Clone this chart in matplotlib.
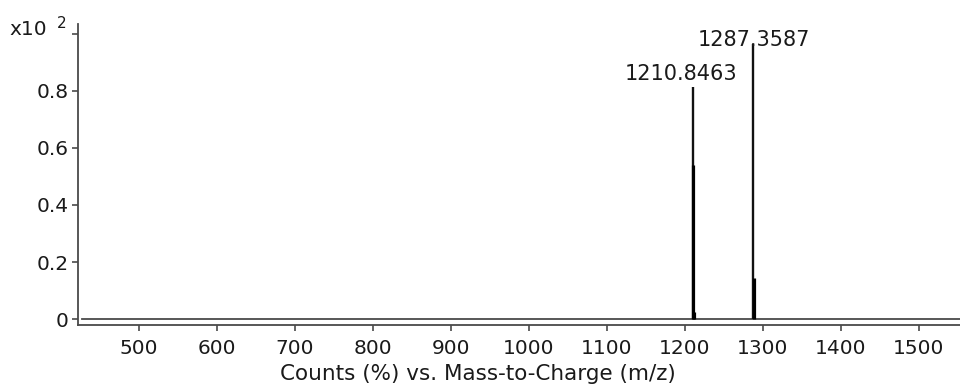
import matplotlib
matplotlib.use('Agg')
import matplotlib.pyplot as plt

plt.rcParams['font.family'] = ['DejaVu Sans']

# Centroid sticks (labelled peaks), intensity in units of x10^2 counts (%)
peak_mz = [1210.8463, 1287.3587]
peak_int = [0.815, 0.965]
peak_labels = ['1210.8463', '1287.3587']

# Profile points under the sticks
profile_mz = [1210.9, 1211.7, 1288.6]
profile_int = [0.54, 0.025, 0.144]

x_ticks = [500, 600, 700, 800, 900, 1000, 1100, 1200, 1300, 1400, 1500]
y_ticks = [0, 0.2, 0.4, 0.6, 0.8, 1.0]
y_ticklabels = ['0', '0.2', '0.4', '0.6', '0.8', '']

axis_col = '#4a4a4a'
text_col = '#1a1a1a'
fs = 14.5

fig = plt.figure(figsize=(9.6, 3.88), dpi=100)
ax = fig.add_axes([78 / 960, 63 / 388, 882 / 960, 301 / 388])

ax.set_xlim(422, 1552.6)
ax.set_ylim(-0.021, 1.035)

# baseline at zero intensity
ax.axhline(0, xmin=4 / 882, xmax=1, color=axis_col, lw=1.3)

ax.vlines(peak_mz, 0, peak_int, color='#111111', lw=1.7)
ax.vlines(profile_mz, 0, profile_int, color='#000000', lw=2.3)

# peak labels
ax.text(peak_mz[1] + 1, 0.958, peak_labels[1], ha='center', va='baseline',
        fontsize=15, color=text_col)
ax.text(peak_mz[0] - 16, 0.839, peak_labels[0], ha='center', va='baseline',
        fontsize=15, color=text_col)

for side in ['top', 'right']:
    ax.spines[side].set_visible(False)
for side in ['left', 'bottom']:
    ax.spines[side].set_color(axis_col)
    ax.spines[side].set_linewidth(1.3)

ax.set_xticks(x_ticks)
ax.set_xticklabels([str(t) for t in x_ticks])
ax.set_yticks(y_ticks)
ax.set_yticklabels(y_ticklabels)
ax.tick_params(axis='both', direction='out', length=4, width=1.2,
               color=axis_col, labelsize=fs, labelcolor=text_col)
ax.tick_params(axis='x', pad=6)
ax.tick_params(axis='y', pad=3)

ax.set_xlabel('Counts (%) vs. Mass-to-Charge (m/z)', fontsize=15.5,
              color=text_col)
ax.xaxis.set_label_coords(0.4535, -0.13)

# exponent marker on the top y tick
fig.text(9 / 960, 1 - 35 / 388, 'x10', fontsize=fs, color=text_col,
         ha='left', va='baseline')
fig.text(57 / 960, 1 - 28 / 388, '2', fontsize=11, color=text_col,
         ha='left', va='baseline')

fig.savefig('out.png', dpi=100)
